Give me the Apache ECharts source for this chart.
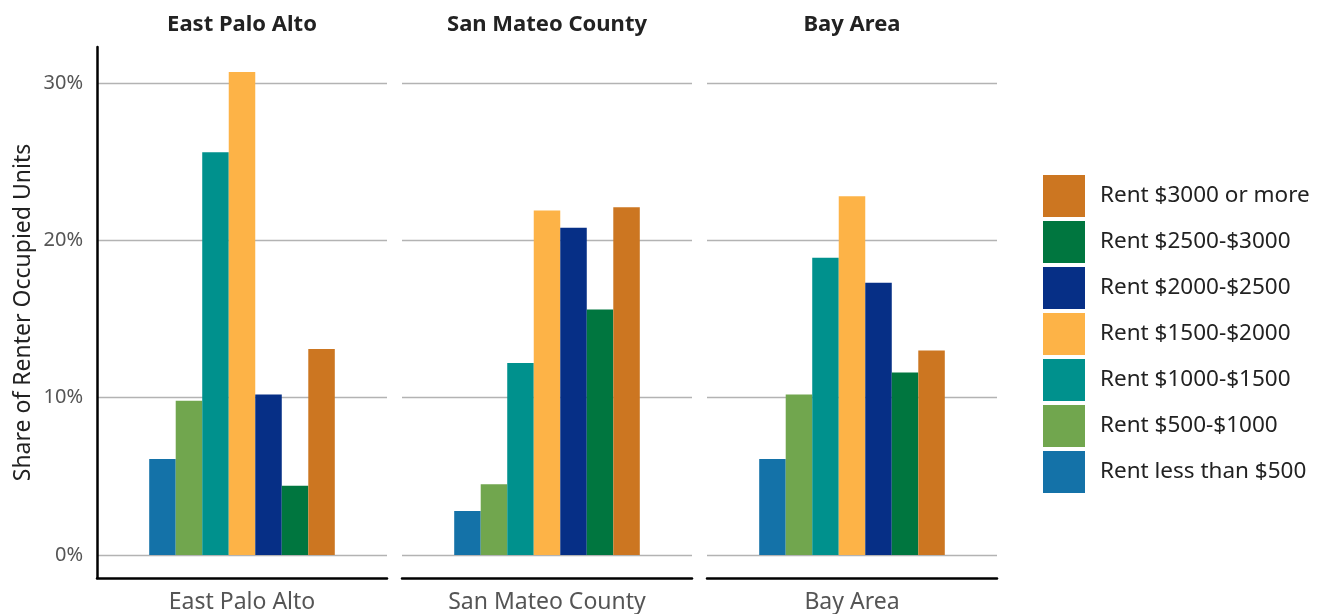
<!DOCTYPE html>
<html>
<head>
<meta charset="utf-8">
<script src="https://cdn.jsdelivr.net/npm/echarts@6/dist/echarts.min.js"></script>
<style>html,body{margin:0;padding:0;background:#fff}#c{width:1328px;height:614px}</style>
</head>
<body>
<div id="c"></div>
<script>
// ---- data ----
const regions = ['East Palo Alto', 'San Mateo County', 'Bay Area'];
const brackets = ['Rent less than $500', 'Rent $500-$1000', 'Rent $1000-$1500', 'Rent $1500-$2000', 'Rent $2000-$2500', 'Rent $2500-$3000', 'Rent $3000 or more'];
const rentLess500 = [6.1, 2.8, 6.1];
const rent500_1000 = [9.8, 4.5, 10.2];
const rent1000_1500 = [25.6, 12.2, 18.9];
const rent1500_2000 = [30.7, 21.9, 22.8];
const rent2000_2500 = [10.2, 20.8, 17.3];
const rent2500_3000 = [4.4, 15.6, 11.6];
const rent3000plus = [13.1, 22.1, 13.0];
const yTicks = [0, 10, 20, 30];

const values = [rentLess500, rent500_1000, rent1000_1500, rent1500_2000, rent2000_2500, rent2500_3000, rent3000plus];
const colors = ['#1472A8', '#71A64E', '#00918D', '#FDB347', '#062F86', '#00763F', '#CC7621'];

const FONT = 'Noto Sans';
const gridLefts = [97, 402, 707];
const gridW = 290;

const chart = echarts.init(document.getElementById('c'), null, {renderer: 'canvas'});

const grids = [], xAxes = [], yAxes = [], titles = [], series = [];
regions.forEach((r, g) => {
  grids.push({left: gridLefts[g], top: 47, width: gridW, height: 531, containLabel: false});
  titles.push({
    text: r, left: gridLefts[g] + gridW / 2, top: 14, textAlign: 'center', padding: 0,
    textStyle: {fontFamily: FONT, fontSize: 22, fontWeight: 'bold', color: '#222'}
  });
  xAxes.push({
    type: 'category', gridIndex: g, data: [r],
    axisLine: {show: true, onZero: false, lineStyle: {color: '#000', width: 2.5}},
    axisTick: {show: false},
    axisLabel: {fontFamily: FONT, fontSize: 23, color: '#555', margin: 13}
  });
  yAxes.push({
    type: 'value', gridIndex: g, min: -1.46, max: 32.29,
    name: g === 0 ? 'Share of Renter Occupied Units' : '',
    nameLocation: 'middle', nameGap: 62,
    nameTextStyle: {fontFamily: FONT, fontSize: 23, color: '#222'},
    axisLine: {show: g === 0, lineStyle: {color: '#000', width: 2.5}},
    axisTick: {show: false, customValues: yTicks},
    axisLabel: {show: g === 0, customValues: yTicks, formatter: '{value}%', fontFamily: FONT, fontSize: 20, color: '#555', margin: 14},
    splitLine: {show: true, lineStyle: {color: '#b3b3b3', width: 1.3}}
  });
  brackets.forEach((b, s) => {
    series.push({
      type: 'bar', name: b, xAxisIndex: g, yAxisIndex: g,
      data: [values[s][g]],
      itemStyle: {color: colors[s]},
      barGap: '0%', barCategoryGap: '36%',
      animation: false
    });
  });
});

chart.setOption({
  backgroundColor: '#fff',
  animation: false,
  title: titles,
  grid: grids,
  xAxis: xAxes,
  yAxis: yAxes,
  legend: {
    orient: 'vertical', left: 1043, top: 175, padding: 0,
    data: brackets.slice().reverse(),
    itemWidth: 42, itemHeight: 42, itemGap: 4,
    icon: 'rect',
    textStyle: {fontFamily: FONT, fontSize: 22.5, color: '#222', padding: [0, 0, 0, 10]}
  },
  series: series
});
</script>
</body>
</html>
